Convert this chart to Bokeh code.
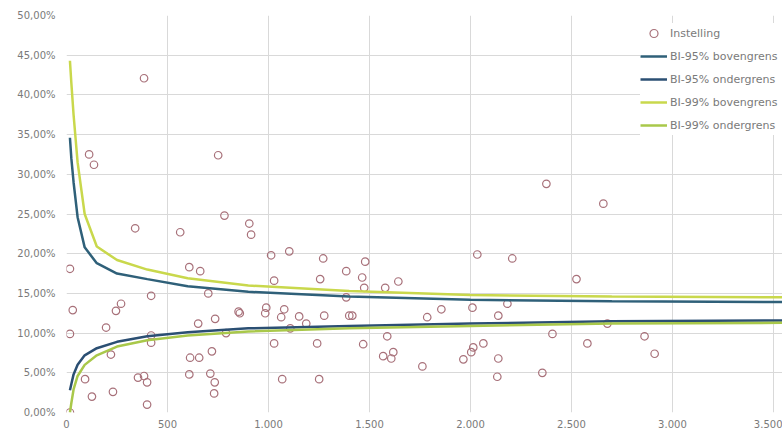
from bokeh.plotting import figure
from bokeh.models import Range1d, FixedTicker, Legend, LegendItem, ColumnDataSource
from bokeh.embed import file_html
from bokeh.resources import INLINE

# Instelling: aantal (x) en percentage (y)
inst_n = [17, 31, 17, 17, 92, 126, 196, 220, 230, 245, 270, 340, 354, 384, 399, 399,
          419, 419, 419, 112, 136, 384, 563, 608, 608, 612, 657, 662, 652, 702, 712,
          720, 734, 731, 736, 782, 751, 852, 858, 790, 905, 914, 1013, 1103, 1028, 989,
          984, 1078, 1063, 1152, 1187, 1108, 1028, 1068, 1241, 1251, 1271, 1256, 1276,
          1385, 1385, 1400, 1415, 1469, 1464, 1479, 1474, 1578, 1643, 1588, 1568, 1618,
          1608, 1786, 1762, 1856, 1965, 2010, 2034, 2014, 2004, 2064, 2138, 2183, 2138,
          2133, 2207, 2658, 2525, 2678, 2406, 2579, 2862, 2912, 2356, 2376]
inst_pct = [18.1, 12.9, 9.9, 0.0, 4.2, 2.0, 10.7, 7.3, 2.6, 12.8, 13.7, 23.2, 4.4, 4.6,
            3.8, 1.0, 14.7, 9.7, 8.8, 32.5, 31.2, 42.1, 22.7, 18.3, 4.8, 6.9, 6.9, 17.8,
            11.2, 15.0, 4.9, 7.7, 3.8, 2.4, 11.8, 24.8, 32.4, 12.7, 12.5, 10.0, 23.8,
            22.4, 19.8, 20.3, 16.6, 13.2, 12.5, 13.0, 12.0, 12.1, 11.2, 10.6, 8.7, 4.2,
            8.7, 4.2, 19.4, 16.8, 12.2, 17.8, 14.5, 12.2, 12.2, 8.6, 17.0, 19.0, 15.7,
            15.7, 16.5, 9.6, 7.1, 7.6, 6.8, 12.0, 5.8, 13.0, 6.7, 13.2, 19.9, 8.2, 7.6,
            8.7, 12.2, 13.7, 6.8, 4.5, 19.4, 26.3, 16.8, 11.2, 9.9, 8.7, 9.6, 7.4, 5.0,
            28.8]

# Betrouwbaarheidsintervallen
bi_n = [17, 24, 35, 55, 90, 150, 250, 400, 600, 900, 1400, 2000, 2700, 3600]
bi95_boven = [34.6, 32.0, 29.0, 24.6, 20.8, 18.8, 17.5, 16.8, 15.9, 15.2, 14.6, 14.2, 14.0, 13.9]
bi95_onder = [2.8, 3.6, 4.8, 6.0, 7.2, 8.1, 8.9, 9.6, 10.1, 10.6, 10.9, 11.2, 11.5, 11.6]
bi99_boven = [44.3, 41.5, 37.5, 31.5, 25.0, 20.9, 19.2, 18.0, 16.9, 16.0, 15.3, 14.8, 14.6, 14.5]
bi99_onder = [0.0, 1.2, 2.9, 4.6, 6.0, 7.2, 8.3, 9.1, 9.7, 10.2, 10.6, 10.9, 11.2, 11.3]

x_ticks = [0, 500, 1000, 1500, 2000, 2500, 3000, 3500]
x_tick_labels = ["0", "500", "1.000", "1.500", "2.000", "2.500", "3.000", "3.500"]
y_ticks = [0, 5, 10, 15, 20, 25, 30, 35, 40, 45, 50]
y_tick_labels = ["0,00%", "5,00%", "10,00%", "15,00%", "20,00%", "25,00%", "30,00%",
                 "35,00%", "40,00%", "45,00%", "50,00%"]

series_names = ["Instelling", "BI-95% bovengrens", "BI-95% ondergrens",
                "BI-99% bovengrens", "BI-99% ondergrens"]

FONT = "DejaVu Sans"
TXT = "#7a7a7a"

p = figure(width=782, height=432, output_backend="svg", toolbar_location=None,
           x_range=Range1d(0, 3545), y_range=Range1d(0, 50),
           min_border_left=66, min_border_top=15, min_border_right=0, min_border_bottom=20)
p.outline_line_color = None
p.background_fill_color = "white"
p.border_fill_color = "white"

for ax in (p.xaxis[0], p.yaxis[0]):
    ax.axis_line_color = None
    ax.major_tick_line_color = None
    ax.minor_tick_line_color = None
    ax.major_tick_out = 0
    ax.major_tick_in = 0
    ax.major_label_text_font = FONT
    ax.major_label_text_font_size = "10px"
    ax.major_label_text_color = TXT

p.xaxis.ticker = FixedTicker(ticks=x_ticks)
p.yaxis.ticker = FixedTicker(ticks=y_ticks)
p.xaxis.major_label_overrides = {t: l for t, l in zip(x_ticks, x_tick_labels)}
p.yaxis.major_label_overrides = {t: l for t, l in zip(y_ticks, y_tick_labels)}
p.xaxis.major_label_standoff = 7
p.yaxis.major_label_standoff = 11

p.xgrid.grid_line_color = "#d9d9d9"
p.ygrid.grid_line_color = "#d9d9d9"
p.xgrid.grid_line_width = 1
p.ygrid.grid_line_width = 1

src_inst = ColumnDataSource(dict(x=inst_n, y=inst_pct))
r_inst = p.scatter("x", "y", source=src_inst, marker="circle", size=7.5,
                   fill_color=None, line_color="#a8717a", line_width=1.2)

src_bi = ColumnDataSource(dict(x=bi_n, b95=bi95_boven, o95=bi95_onder,
                               b99=bi99_boven, o99=bi99_onder))
r_b95 = p.line("x", "b95", source=src_bi, line_color="#2f6079", line_width=2.5)
r_o95 = p.line("x", "o95", source=src_bi, line_color="#2b4f73", line_width=2.5)
r_b99 = p.line("x", "b99", source=src_bi, line_color="#c9d84c", line_width=2.5)
r_o99 = p.line("x", "o99", source=src_bi, line_color="#a9c84a", line_width=2.5)

legend = Legend(items=[LegendItem(label=n, renderers=[r]) for n, r in
                       zip(series_names, [r_inst, r_b95, r_o95, r_b99, r_o99])],
                location=(574, 277))
legend.label_text_font = FONT
legend.label_text_font_size = "11px"
legend.label_text_color = TXT
legend.glyph_width = 27
legend.glyph_height = 20
legend.label_height = 20
legend.label_width = 112
legend.spacing = 3
legend.padding = 0
legend.margin = 0
legend.label_standoff = 3
legend.border_line_color = None
legend.background_fill_color = "white"
legend.background_fill_alpha = 1.0
p.add_layout(legend)

open("out.html", "w").write(file_html(p, INLINE))
